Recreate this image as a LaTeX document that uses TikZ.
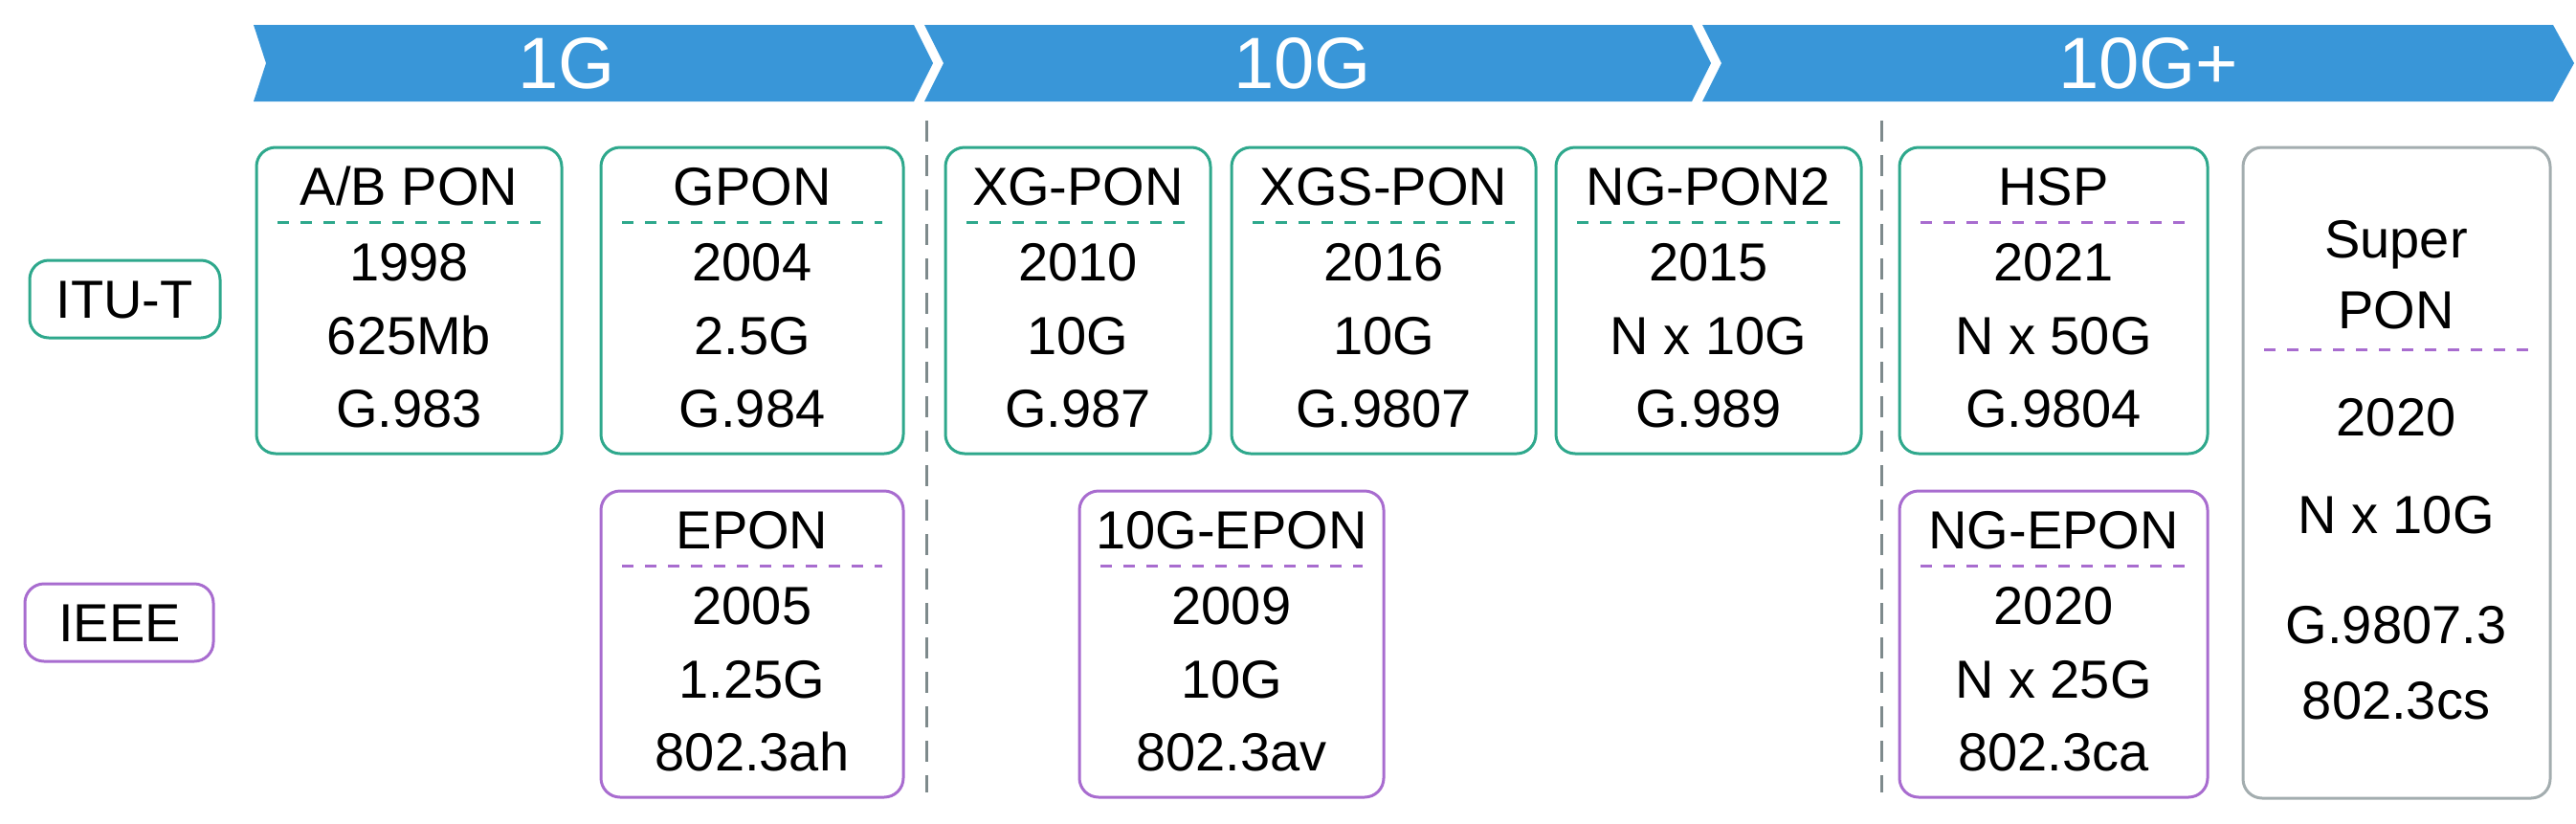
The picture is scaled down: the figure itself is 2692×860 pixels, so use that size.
\documentclass[tikz,border=0pt]{standalone}
\usepackage{fontspec}
\setmainfont{Liberation Sans}
\definecolor{bannerblue}{HTML}{3996D8}
\definecolor{teal}{HTML}{2EA88C}
\definecolor{purp}{HTML}{A86CCF}
\definecolor{greybox}{HTML}{A3ADAF}
\definecolor{divgrey}{HTML}{7E8A8C}
\tikzset{
  pbox/.style={line width=3pt, rounded corners=20pt},
  ptxt/.style={anchor=base, inner sep=0pt, font=\fontsize{56}{60}\selectfont},
  btxt/.style={anchor=base, inner sep=0pt, text=white, font=\fontsize{76}{80}\selectfont},
  hdash/.style={line width=3pt, dash pattern=on 12pt off 12pt},
  divline/.style={line width=3pt, divgrey, dash pattern=on 22pt off 14pt},
}
\newcommand{\dc}{teal}
% #1 name #2 x1 #3 x2 #4 ytop #5 colour #6 title #7-#9 lines
\newcommand{\ponbox}[9]{%
  \draw[pbox,#5] (#2,#4) rectangle (#3,#4+320);
  \node[ptxt] (#1t) at ({(#2+#3)/2},#4+60) {#6};
  \coordinate (#1a) at (#2+22,#4+78);
  \coordinate (#1b) at (#3-22,#4+78);
  \draw[hdash,\dc] (#1a) -- (#1b);
  \node[ptxt] (#1r1) at ({(#2+#3)/2},#4+139) {#7};
  \node[ptxt] (#1r2) at ({(#2+#3)/2},#4+216) {#8};
  \node[ptxt] (#1r3) at ({(#2+#3)/2},#4+292) {#9};
}
\begin{document}
\begin{tikzpicture}[x=1pt,y=-1pt]
\useasboundingbox (0,0) rectangle (2692,860);
% banner
\fill[bannerblue] (265,26) -- (955,26) -- (975,66) -- (955,106) -- (265,106) -- (278,66) -- cycle;
\fill[bannerblue] (966,26) -- (1768,26) -- (1788,66) -- (1768,106) -- (966,106) -- (986,66) -- cycle;
\fill[bannerblue] (1779,26) -- (2668,26) -- (2690,66) -- (2668,106) -- (1779,106) -- (1799,66) -- cycle;
\node[btxt] (b1) at (592,92) {1G};
\node[btxt] (b2) at (1361,92) {10G};
\node[btxt] (b3) at (2245,92) {10G+};
% dividers
\draw[divline] (968,126) -- (968,828);
\draw[divline] (1966,126) -- (1966,828);
% row labels
\draw[pbox,teal] (31,272) rectangle (230,353);
\node[ptxt] (itu) at (130,332) {ITU-T};
\draw[pbox,purp] (26,610) rectangle (223,691);
\node[ptxt] (ieee) at (125,670) {IEEE};
% ITU-T boxes
\ponbox{ab}{268}{587}{154}{teal}{A/B PON}{1998}{625Mb}{G.983}
\ponbox{gp}{628}{944}{154}{teal}{GPON}{2004}{2.5G}{G.984}
\ponbox{xg}{988}{1265}{154}{teal}{XG-PON}{2010}{10G}{G.987}
\ponbox{xgs}{1287}{1605}{154}{teal}{XGS-PON}{2016}{10G}{G.9807}
\ponbox{ng}{1626}{1945}{154}{teal}{NG-PON2}{2015}{N x 10G}{G.989}
\renewcommand{\dc}{purp}
\ponbox{hsp}{1985}{2307}{154}{teal}{HSP}{2021}{N x 50G}{G.9804}
% IEEE boxes
\ponbox{ep}{628}{944}{513}{purp}{EPON}{2005}{1.25G}{802.3ah}
\ponbox{tep}{1128}{1446}{513}{purp}{10G-EPON}{2009}{10G}{802.3av}
\ponbox{nep}{1985}{2307}{513}{purp}{NG-EPON}{2020}{N x 25G}{802.3ca}
% Super PON
\draw[pbox,greybox] (2344,154) rectangle (2665,834);
\node[ptxt] (sp1) at (2504,269) {Super};
\node[ptxt] (sp2) at (2504,343) {PON};
\coordinate (spa) at (2366,365);
\coordinate (spb) at (2644,365);
\draw[hdash,purp] (spa) -- (spb);
\node[ptxt] (sp3) at (2504,455) {2020};
\node[ptxt] (sp4) at (2504,557) {N x 10G};
\node[ptxt] (sp5) at (2504,672) {G.9807.3};
\node[ptxt] (sp6) at (2504,751) {802.3cs};
\end{tikzpicture}
\end{document}
